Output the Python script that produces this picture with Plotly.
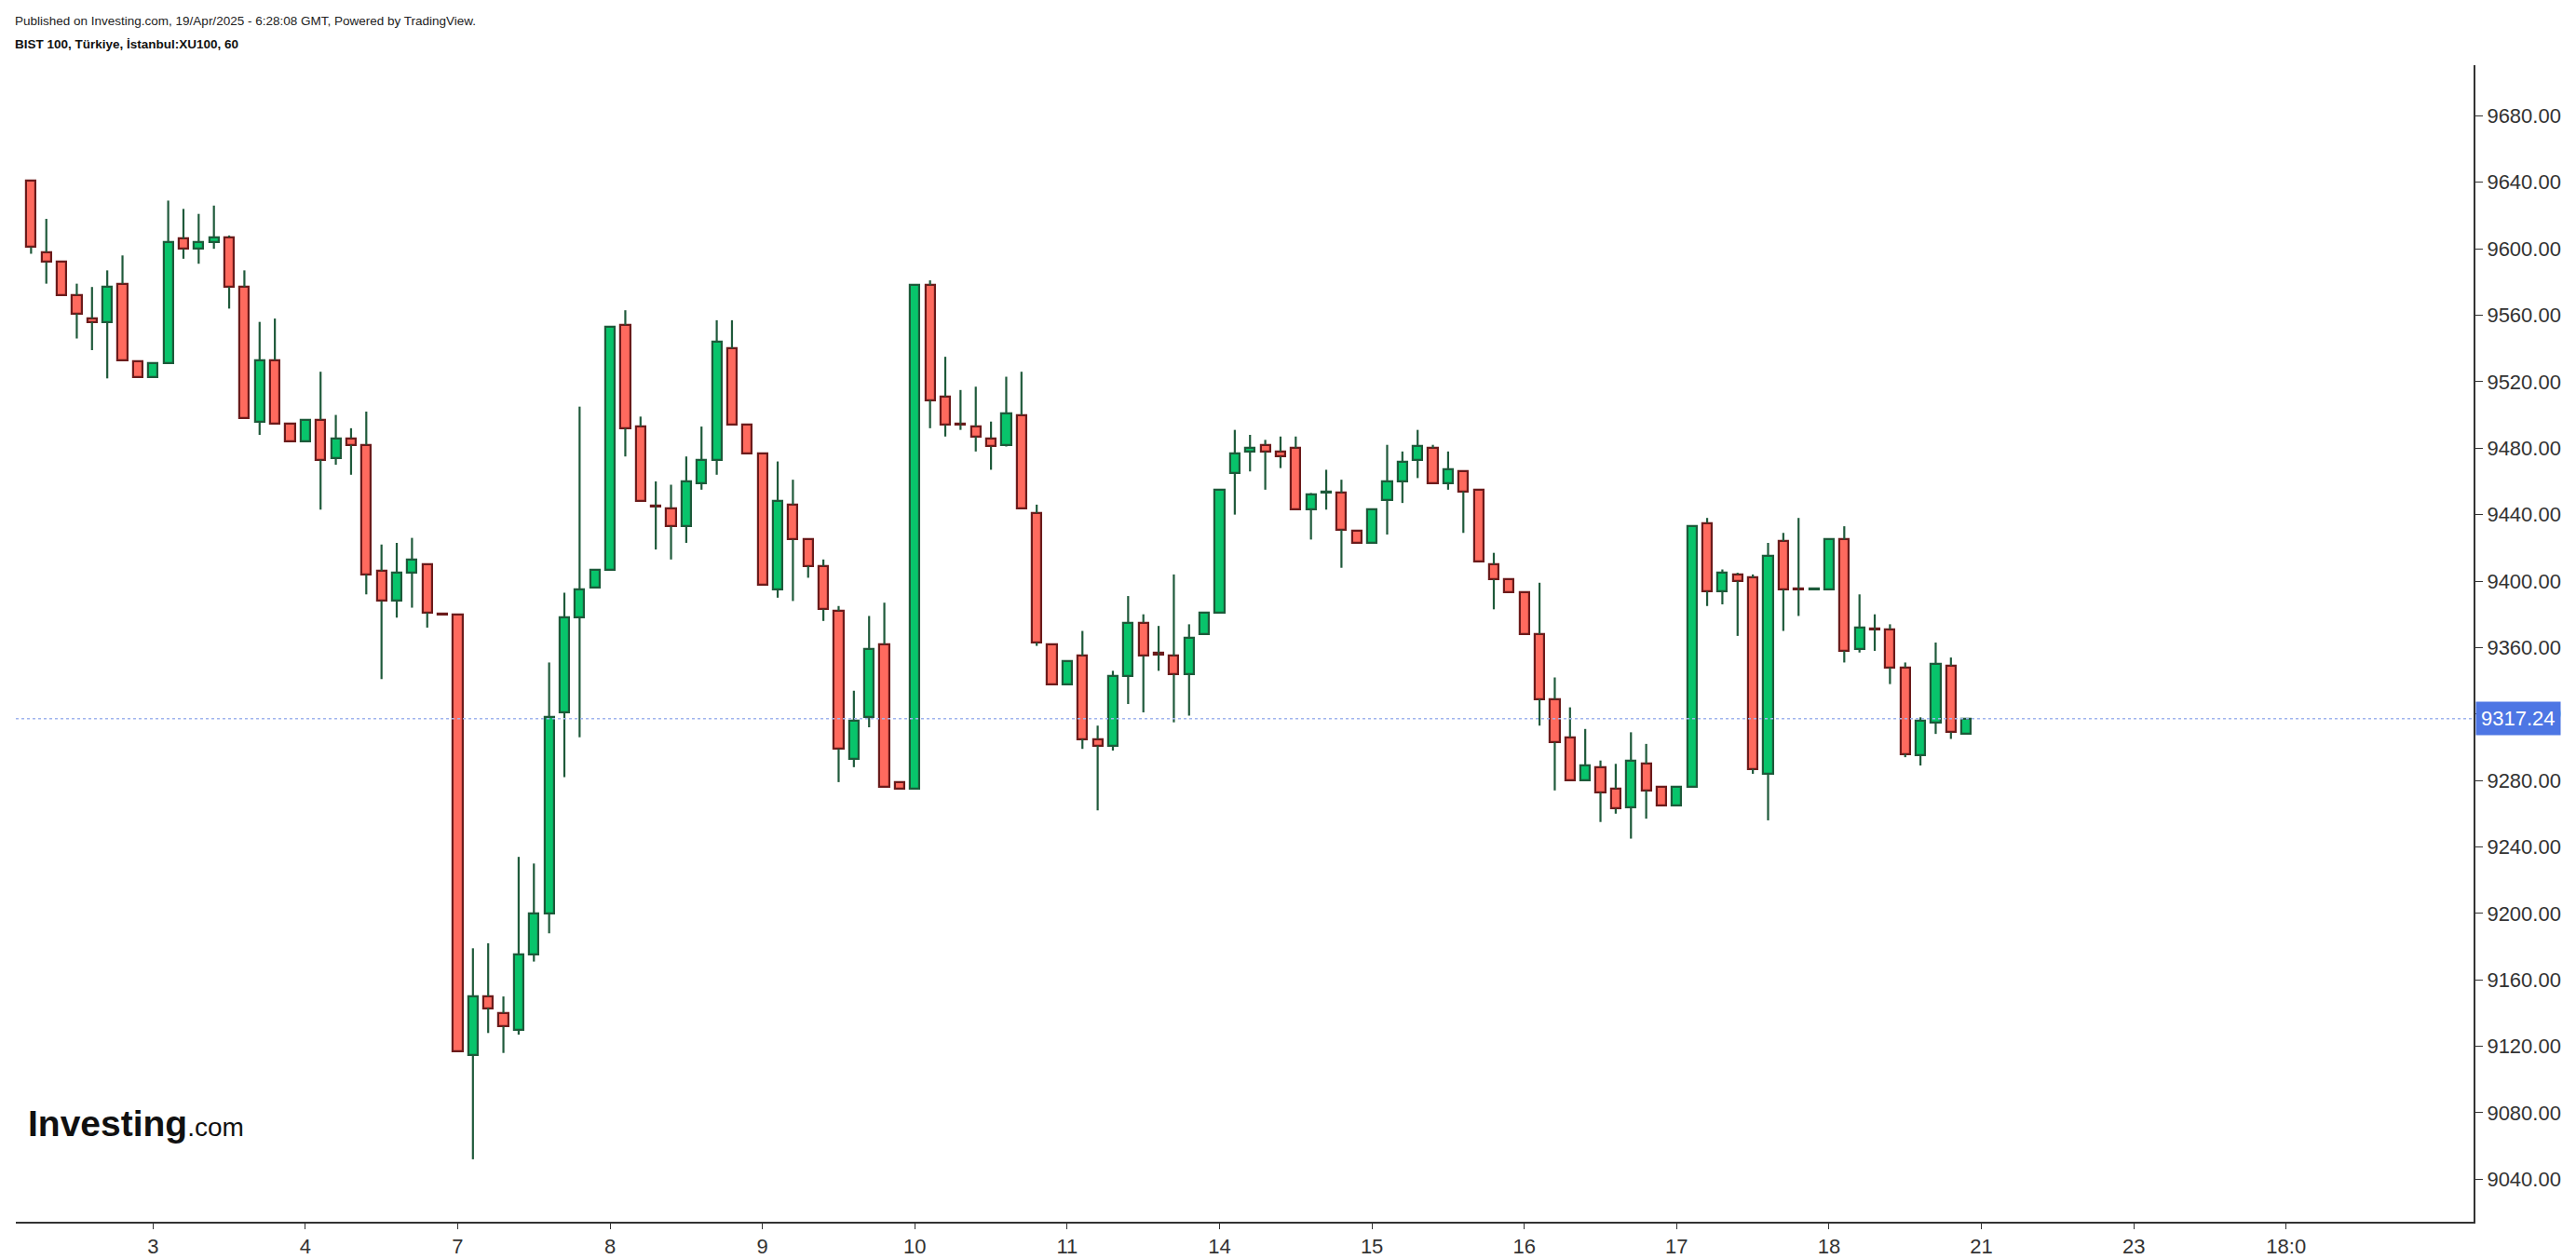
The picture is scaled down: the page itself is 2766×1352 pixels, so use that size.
import plotly.graph_objects as go

# hourly BIST 100 bars, Apr 2 - Apr 18 2025 (10 bars per session, first session partial)
opens = [9641, 9598, 9592, 9572, 9558, 9556, 9579, 9532,
         9523, 9531, 9606, 9600, 9604, 9607, 9577, 9496, 9533, 9495,
         9484, 9497, 9474, 9486, 9482, 9406, 9388, 9405, 9410, 9380.5,
         9380, 9115, 9150, 9140, 9130, 9175, 9200, 9321, 9378, 9396,
         9407, 9554, 9493, 9445.5, 9444, 9433, 9459, 9473, 9540, 9494,
         9477, 9395, 9446, 9425, 9409, 9382, 9293, 9318, 9362, 9279,
         9275, 9578, 9511, 9494.5, 9493, 9486, 9482, 9500, 9441, 9362,
         9338, 9355, 9305, 9301, 9343, 9375, 9356.5, 9355, 9344, 9368,
         9381, 9465, 9478, 9482, 9478, 9480, 9443, 9453, 9453, 9430,
         9423, 9449, 9460, 9473, 9480, 9459, 9466, 9455, 9410, 9401,
         9393, 9368, 9329, 9306, 9280, 9288, 9275, 9264, 9290, 9276,
         9265, 9276, 9435, 9394, 9404, 9402, 9284, 9424, 9395.5, 9395,
         9395, 9425, 9359, 9371.5, 9371, 9348, 9295, 9315, 9349, 9308]
highs = [9641, 9618, 9592, 9579, 9577, 9587, 9596, 9532,
         9531, 9629, 9624, 9621, 9626, 9608, 9587, 9556, 9558, 9495,
         9497, 9526, 9500, 9492, 9502, 9422, 9423, 9426, 9410, 9380.5,
         9380, 9179, 9182, 9150, 9234, 9230, 9351, 9393, 9505, 9407,
         9553, 9563, 9499, 9460, 9458, 9475, 9493, 9557, 9557, 9494,
         9477, 9472, 9461, 9425, 9413, 9385, 9334, 9379, 9387, 9279,
         9578, 9581, 9535, 9515, 9517, 9496, 9523, 9526, 9446, 9362,
         9352, 9370, 9313, 9346, 9391, 9380, 9373, 9404, 9374, 9381,
         9455, 9491, 9488, 9485, 9487, 9487, 9453, 9467, 9461, 9430,
         9443, 9482, 9478, 9491, 9482, 9478, 9466, 9455, 9417, 9401,
         9393, 9399, 9342, 9324, 9311, 9292, 9290, 9309, 9302, 9276,
         9276, 9433, 9438, 9407, 9405, 9404, 9423, 9429, 9438, 9395.5,
         9425, 9433, 9392, 9380, 9374, 9351, 9318, 9363, 9354, 9317.24]
lows = [9597, 9579, 9572, 9546, 9539, 9522, 9533, 9523,
        9523, 9531, 9594, 9591, 9600, 9564, 9498, 9488, 9495, 9484,
        9484, 9443, 9470, 9464, 9392, 9341, 9378, 9384, 9372, 9380,
        9117, 9052, 9128, 9116, 9127, 9171, 9188, 9282, 9306, 9396,
        9407, 9475, 9448, 9419, 9413, 9423, 9455, 9464, 9494, 9477,
        9398, 9390, 9388, 9402, 9376, 9279, 9288, 9312, 9276, 9275,
        9275, 9492, 9487, 9491, 9478, 9467, 9481, 9444, 9361, 9338,
        9338, 9299, 9262, 9298, 9326, 9321, 9346, 9315, 9319, 9368,
        9381, 9440, 9466, 9455, 9468, 9443, 9425, 9443, 9408, 9423,
        9423, 9428, 9447, 9462, 9459, 9455, 9429, 9412, 9383, 9393,
        9368, 9313, 9274, 9280, 9280, 9255, 9260, 9245, 9257, 9265,
        9265, 9276, 9385, 9386, 9367, 9284, 9256, 9370, 9379, 9395,
        9395, 9351, 9357, 9358, 9338, 9294, 9289, 9308, 9305, 9308]
closes = [9601, 9592, 9572, 9561, 9556, 9577, 9533, 9523,
          9531, 9604, 9600, 9604, 9607, 9577, 9498, 9533, 9495, 9484,
          9497, 9473, 9486, 9482, 9404, 9388, 9405, 9413, 9381, 9380,
          9117, 9150, 9143, 9132, 9175, 9200, 9318, 9378, 9395, 9407,
          9553, 9492, 9448, 9445, 9433, 9460, 9473, 9544, 9494, 9477,
          9398, 9448, 9425, 9409, 9383, 9299, 9316, 9359, 9276, 9275,
          9578, 9509, 9494, 9494, 9487, 9481, 9501, 9444, 9363, 9338,
          9352, 9305, 9301, 9343, 9375, 9355, 9356, 9344, 9366, 9381,
          9455, 9477, 9480, 9478, 9475, 9443, 9452, 9453.5, 9431, 9423,
          9443, 9460, 9472, 9481, 9459, 9467, 9454, 9412, 9401, 9393,
          9368, 9329, 9303, 9280, 9289, 9273, 9263, 9292, 9274, 9265,
          9276, 9433, 9394, 9405, 9400, 9287, 9415, 9395, 9395, 9395.5,
          9425, 9358, 9372, 9371, 9348, 9296, 9316, 9350, 9309, 9317.24]

day_ticks = [8, 18, 28, 38, 48, 58, 68, 78, 88, 98, 108, 118, 128, 138, 148]
day_labels = ["3", "4", "7", "8", "9", "10", "11", "14", "15", "16", "17", "18", "21", "23", "18:0"]
y_ticks = list(range(9040, 9681, 40))
last_price = 9317.24

UP_FILL, UP_LINE = "#08c46b", "#1d5a3a"
DN_FILL, DN_LINE = "#ff6a5e", "#6b1b1b"
WICK = "#1f5a3b"
FONT = "Arial, Liberation Sans"

idx = list(range(len(opens)))
fig = go.Figure()

# wicks, drawn as upper and lower segments so they don't cross the body
wx, wy = [], []
for i in idx:
    top = max(opens[i], closes[i])
    bot = min(opens[i], closes[i])
    if highs[i] > top:
        wx += [i, i, None]
        wy += [highs[i], top, None]
    if lows[i] < bot:
        wx += [i, i, None]
        wy += [bot, lows[i], None]
fig.add_trace(go.Scatter(x=wx, y=wy, mode="lines", line=dict(color=WICK, width=2.2),
                         hoverinfo="skip", showlegend=False))

# bodies
up = [i for i in idx if closes[i] >= opens[i]]
dn = [i for i in idx if closes[i] < opens[i]]
for sel, fill, line in [(up, UP_FILL, UP_LINE), (dn, DN_FILL, DN_LINE)]:
    fig.add_trace(go.Bar(
        x=sel,
        y=[max(abs(closes[i] - opens[i]), 0.6) for i in sel],
        base=[min(opens[i], closes[i]) for i in sel],
        width=0.62,
        marker=dict(color=fill, line=dict(color=line, width=2.2)),
        showlegend=False,
    ))

fig.add_hline(y=last_price, line=dict(color="#9fb4ee", width=1.5, dash="dot"))

fig.add_annotation(xref="paper", x=1.0, y=last_price, xanchor="left", yanchor="middle",
                   text="%.2f" % last_price, showarrow=False,
                   font=dict(family=FONT, size=22, color="white"),
                   bgcolor="#4d76e4", borderpad=5, xshift=2)

fig.add_annotation(xref="paper", yref="paper", x=-0.001, y=1.0, yshift=48, xanchor="left",
                   yanchor="middle", showarrow=False,
                   text="Published on Investing.com, 19/Apr/2025 - 6:28:08 GMT, Powered by TradingView.",
                   font=dict(family=FONT, size=13.5, color="#222"))
fig.add_annotation(xref="paper", yref="paper", x=-0.001, y=1.0, yshift=23, xanchor="left",
                   yanchor="middle", showarrow=False,
                   text="<b>BIST 100, Türkiye, İstanbul:XU100, 60</b>",
                   font=dict(family=FONT, size=13.5, color="#111"))
fig.add_annotation(xref="paper", yref="paper", x=0.004, y=0.085, xanchor="left", yanchor="middle",
                   showarrow=False,
                   text="<b>Investing</b><span style='font-size:28px'>.com</span>",
                   font=dict(family=FONT, size=39, color="#111"))

fig.update_layout(
    width=2766, height=1352,
    margin=dict(l=9, r=118, t=62, b=43),
    plot_bgcolor="white", paper_bgcolor="white",
    barmode="overlay", bargap=0,
    font=dict(family=FONT, size=22, color="#333"),
    xaxis=dict(range=[-1, 160.3], tickvals=day_ticks, ticktext=day_labels,
               showgrid=False, zeroline=False, showline=True, linecolor="#333", linewidth=2,
               ticks="outside", ticklen=6, tickcolor="#333"),
    yaxis=dict(range=[9014.4, 9710.5], side="right", tickvals=y_ticks,
               ticktext=["%.2f" % v for v in y_ticks],
               showgrid=False, zeroline=False, showline=True, linecolor="#333", linewidth=2,
               ticks="outside", ticklen=8, tickcolor="#333"),
)

fig.write_html("out.html")
